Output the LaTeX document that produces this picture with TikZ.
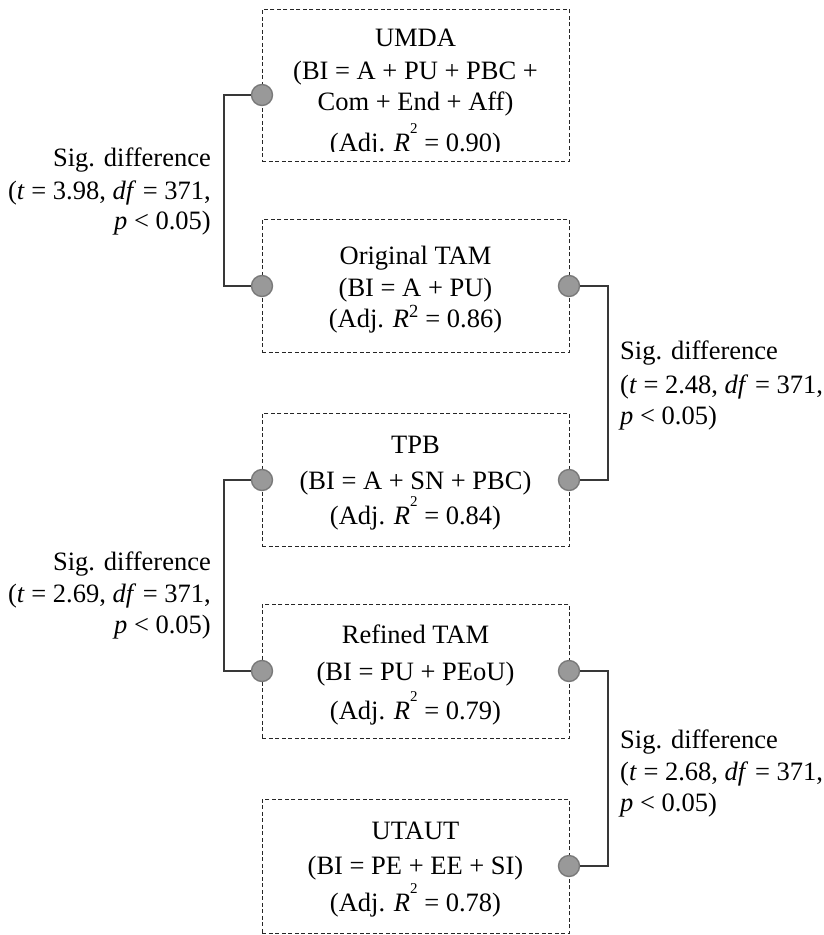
\documentclass[tikz,border=0pt]{standalone}
\usepackage{fontspec}
\setmainfont{Liberation Serif}
\usetikzlibrary{calc}

% italic R with a small 2 set high above its right shoulder
\newcommand\rsqhigh{\textit{R}\raisebox{18pt}{\fontsize{15}{15}\selectfont 2}}
\newcommand\rsqlow{\textit{R}\textsuperscript{2}}

\tikzset{
  model/.style={draw=black!85, dash pattern=on 4pt off 2.5pt, line width=0.9pt,
    minimum width=307pt, inner sep=0pt, anchor=north west},
  ln/.style={anchor=base, inner sep=0pt, font=\fontsize{26.5}{32}\selectfont},
  lablft/.style={anchor=base east, inner sep=0pt, font=\fontsize{26.5}{32}\selectfont},
  labrgt/.style={anchor=base west, inner sep=0pt, font=\fontsize{26.5}{32}\selectfont},
  port/.style={circle, fill=black!40, draw=black!52, line width=1.4pt,
    minimum size=21pt, inner sep=0pt},
  conn/.style={draw=black!78, line width=1.3pt},
}

\begin{document}
\begin{tikzpicture}[x=1pt, y=-1pt]
\useasboundingbox[fill=white] (0,0) rectangle (823,935);

% model boxes
\node[model, minimum height=152pt] (umda) at (262,9) {};
\node[model, minimum height=133pt] (otam) at (262,219) {};
\node[model, minimum height=133pt] (tpb)  at (262,413) {};
\node[model, minimum height=134pt] (rtam) at (262,604) {};
\node[model, minimum height=134pt] (utaut) at (262,799) {};

% box texts
\node[ln] (umda1) at (415.5,46) {UMDA};
\node[ln] (umda2) at (415.5,79) {(BI = A + PU + PBC +};
\node[ln] (umda3) at (415.5,110) {Com + End + Aff)};
\begin{scope}
  \clip (262,9) rectangle (569,151.5);
  \node[ln] (umda4) at (415.5,151) {(Adj. \rsqhigh{} = 0.90)};
\end{scope}

\node[ln] (otam1) at (415.5,264) {Original TAM};
\node[ln] (otam2) at (415.5,296) {(BI = A + PU)};
\node[ln] (otam3) at (415.5,327) {(Adj. \rsqlow\ = 0.86)};

\node[ln] (tpb1) at (415.5,453) {TPB};
\node[ln] (tpb2) at (415.5,489) {(BI = A + SN + PBC)};
\node[ln] (tpb3) at (415.5,524) {(Adj. \rsqhigh{} = 0.84)};

\node[ln] (rtam1) at (415.5,643) {Refined TAM};
\node[ln] (rtam2) at (415.5,680) {(BI = PU + PEoU)};
\node[ln] (rtam3) at (415.5,719) {(Adj. \rsqhigh{} = 0.79)};

\node[ln] (utaut1) at (415.5,839) {UTAUT};
\node[ln] (utaut2) at (415.5,874) {(BI = PE + EE + SI)};
\node[ln] (utaut3) at (415.5,911) {(Adj. \rsqhigh{} = 0.78)};

% connection ports
\node[port] (umdaL) at (262,95) {};
\node[port] (otamL) at (262,286) {};
\node[port] (otamR) at (569,286) {};
\node[port] (tpbR)  at (569,480) {};
\node[port] (tpbL)  at (262,480) {};
\node[port] (rtamL) at (262,671) {};
\node[port] (rtamR) at (569,671) {};
\node[port] (utautR) at (569,866) {};

% bends of the brackets
\coordinate (j1) at (224,190);
\coordinate (j2) at (608,383);
\coordinate (j3) at (224,575);
\coordinate (j4) at (608,768);

\draw[conn] (umdaL.west) -| (j1) |- (otamL.west);
\draw[conn] (otamR.east) -| (j2) |- (tpbR.east);
\draw[conn] (tpbL.west) -| (j3) |- (rtamL.west);
\draw[conn] (rtamR.east) -| (j4) |- (utautR.east);

% significance labels
\node[lablft] (s1a) at (211,166) {Sig. difference};
\node[lablft] (s1b) at (211,199) {(\textit{t} = 3.98, \textit{df} = 371,};
\node[lablft] (s1c) at (211,229) {\textit{p} < 0.05)};

\node[labrgt] (s2a) at (620,359) {Sig. difference};
\node[labrgt] (s2b) at (620,393) {(\textit{t} = 2.48, \textit{df} = 371,};
\node[labrgt] (s2c) at (620,424) {\textit{p} < 0.05)};

\node[lablft] (s3a) at (211,570) {Sig. difference};
\node[lablft] (s3b) at (211,602) {(\textit{t} = 2.69, \textit{df} = 371,};
\node[lablft] (s3c) at (211,633) {\textit{p} < 0.05)};

\node[labrgt] (s4a) at (620,748) {Sig. difference};
\node[labrgt] (s4b) at (620,780) {(\textit{t} = 2.68, \textit{df} = 371,};
\node[labrgt] (s4c) at (620,811) {\textit{p} < 0.05)};
\end{tikzpicture}
\end{document}
